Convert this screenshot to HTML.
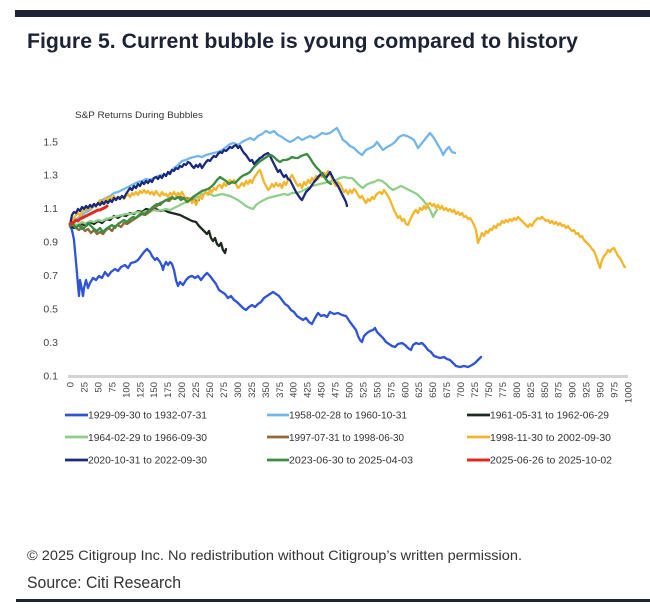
<!DOCTYPE html>
<html>
<head>
<meta charset="utf-8">
<style>
html,body{margin:0;padding:0;background:#fff;}
svg{display:block;}
text{font-family:"Liberation Sans",sans-serif;}
</style>
</head>
<body>
<svg width="650" height="612" viewBox="0 0 650 612" xmlns="http://www.w3.org/2000/svg">
<rect x="0" y="0" width="650" height="612" fill="#fff"/>
<rect x="15" y="10" width="635" height="7" fill="#1b2335"/>
<text x="27" y="48" font-size="21" font-weight="bold" fill="#1b2335" textLength="551" lengthAdjust="spacingAndGlyphs">Figure 5. Current bubble is young compared to history</text>

<text x="75" y="118" font-size="9" fill="#333" textLength="128" lengthAdjust="spacingAndGlyphs">S&amp;P Returns During Bubbles</text>

<g font-size="10.5" fill="#444" text-anchor="end">
<text x="58" y="145.5">1.5</text>
<text x="58" y="178.5">1.3</text>
<text x="58" y="212">1.1</text>
<text x="58" y="245.5">0.9</text>
<text x="58" y="279">0.7</text>
<text x="58" y="312.5">0.5</text>
<text x="58" y="346">0.3</text>
<text x="58" y="379.5">0.1</text>
</g>

<line x1="68" y1="376.5" x2="628" y2="376.5" stroke="#d4d4d4" stroke-width="3"/>

<g font-size="9.5" fill="#444" text-anchor="end">
<text transform="translate(73.5,382) rotate(-90)">0</text>
<text transform="translate(87.5,382) rotate(-90)">25</text>
<text transform="translate(101.4,382) rotate(-90)">50</text>
<text transform="translate(115.4,382) rotate(-90)">75</text>
<text transform="translate(129.3,382) rotate(-90)">100</text>
<text transform="translate(143.3,382) rotate(-90)">125</text>
<text transform="translate(157.2,382) rotate(-90)">150</text>
<text transform="translate(171.2,382) rotate(-90)">175</text>
<text transform="translate(185.1,382) rotate(-90)">200</text>
<text transform="translate(199.1,382) rotate(-90)">225</text>
<text transform="translate(213,382) rotate(-90)">250</text>
<text transform="translate(226.9,382) rotate(-90)">275</text>
<text transform="translate(240.9,382) rotate(-90)">300</text>
<text transform="translate(254.8,382) rotate(-90)">325</text>
<text transform="translate(268.8,382) rotate(-90)">350</text>
<text transform="translate(282.8,382) rotate(-90)">375</text>
<text transform="translate(296.7,382) rotate(-90)">400</text>
<text transform="translate(310.6,382) rotate(-90)">425</text>
<text transform="translate(324.6,382) rotate(-90)">450</text>
<text transform="translate(338.5,382) rotate(-90)">475</text>
<text transform="translate(352.5,382) rotate(-90)">500</text>
<text transform="translate(366.4,382) rotate(-90)">525</text>
<text transform="translate(380.4,382) rotate(-90)">550</text>
<text transform="translate(394.3,382) rotate(-90)">575</text>
<text transform="translate(408.3,382) rotate(-90)">600</text>
<text transform="translate(422.2,382) rotate(-90)">625</text>
<text transform="translate(436.2,382) rotate(-90)">650</text>
<text transform="translate(450.1,382) rotate(-90)">675</text>
<text transform="translate(464.1,382) rotate(-90)">700</text>
<text transform="translate(478,382) rotate(-90)">725</text>
<text transform="translate(492,382) rotate(-90)">750</text>
<text transform="translate(505.9,382) rotate(-90)">775</text>
<text transform="translate(519.9,382) rotate(-90)">800</text>
<text transform="translate(533.8,382) rotate(-90)">825</text>
<text transform="translate(547.8,382) rotate(-90)">850</text>
<text transform="translate(561.7,382) rotate(-90)">875</text>
<text transform="translate(575.7,382) rotate(-90)">900</text>
<text transform="translate(589.6,382) rotate(-90)">925</text>
<text transform="translate(603.6,382) rotate(-90)">950</text>
<text transform="translate(617.5,382) rotate(-90)">975</text>
<text transform="translate(631.5,382) rotate(-90)">1000</text>
</g>

<g fill="none" stroke-width="2.3" stroke-linejoin="round" stroke-linecap="round">
<!-- 1929 -->
<polyline stroke="#2f55d4" points="70,226 72,230 74,240 76,262 78,285 79,296 80,280 82,290 83,296 84,288 86,280 88,288 90,283 93,278 96,280 99,276 102,278 105,272 108,276 111,272 115,269 118,271 121,267 125,265 128,268 131,263 135,262 138,260 141,256 144,252 147,249 150,252 152,256 155,260 157,258 160,262 162,266 163,270 164,266 166,262 168,265 170,262 172,264 174,270 176,280 178,286 180,282 183,285 186,280 189,277 192,276 195,278 198,276 201,280 204,276 207,273 210,276 213,280 216,284 219,290 222,292 225,294 228,298 231,296 234,300 237,302 240,305 243,308 246,310 249,307 252,305 255,307 258,304 261,302 264,298 267,296 270,294 273,292 276,294 279,296 282,300 285,304 288,306 291,310 294,312 297,316 300,318 303,320 306,318 309,322 312,324 315,318 318,313 321,316 324,315 327,317 330,312 334,314 338,313 342,315 346,316 350,322 353,326 356,330 358,336 360,340 362,342 364,336 367,333 370,331 373,330 375,328 377,332 380,335 383,338 386,342 389,344 392,346 395,347 398,344 402,343 405,345 408,348 411,350 413,345 416,343 419,344 422,343 425,346 428,350 431,352 434,356 437,357 440,358 444,357 447,359 450,360 453,363 456,366 460,367 464,366 468,367 472,365 475,363 478,360 481,357"/>
<!-- 1958 -->
<polyline stroke="#72b6ea" points="70,226 74,222 78,218 82,215 86,212 90,210 94,206 98,204 102,200 106,198 110,196 114,193 118,192 122,190 126,188 130,186 134,184 138,182 142,181 146,179 150,180 154,178 158,176 162,175 166,175 170,172 174,168 178,165 182,161 186,160 190,158 194,157 198,156 202,157 206,155 210,154 214,153 218,152 222,150 226,147 230,144 234,143 238,145 242,142 246,140 250,138 254,140 258,136 262,134 266,131 270,133 274,131 278,135 282,137 286,140 290,142 294,140 298,137 302,140 306,138 310,136 314,138 318,136 322,133 326,134 330,133 334,130 337,128 340,134 343,140 346,142 350,146 354,148 358,152 362,155 366,150 370,148 374,146 377,142 380,146 383,150 387,147 391,145 395,142 399,137 403,135 407,136 411,138 414,140 418,148 422,143 426,138 430,133 434,138 438,145 441,150 443,155 446,150 449,147 452,152 455,153"/>
<!-- 1961 -->
<polyline stroke="#1d2b1e" points="70,226 74,228 78,226 82,224 86,226 90,222 94,224 98,221 102,223 106,219 110,220 114,216 118,218 122,215 126,216 130,213 134,214 138,211 142,212 146,209 150,210 153,207 156,209 160,211 164,210 168,212 172,213 176,214 180,215 184,217 188,219 192,221 196,222 199,226 202,229 205,232 207,234 209,231 211,238 213,241 215,238 217,244 219,246 221,243 223,250 225,253 226,249"/>
<!-- 1964 -->
<polyline stroke="#90cf8a" points="70,226 74,224 78,225 82,222 86,224 90,221 94,222 98,220 102,221 106,219 110,218 114,217 118,216 122,215 126,214 130,214 134,213 138,212 142,213 146,211 150,212 154,210 158,211 162,210 166,209 170,210 174,208 178,206 182,204 186,202 190,200 194,198 198,197 202,194 206,193 210,194 214,196 218,195 222,194 226,195 230,196 234,198 238,200 242,203 246,206 250,208 253,209 256,205 260,202 264,200 268,198 272,197 276,196 280,195 284,194 288,195 292,193 296,193 300,192 304,190 308,188 312,186 316,185 320,184 324,183 328,182 332,181 336,180 340,178 344,177 348,178 352,178 356,182 360,186 363,188 366,185 370,183 374,182 378,180 382,181 386,184 390,188 393,190 397,188 401,186 405,188 409,190 413,192 417,194 420,197 423,200 426,204 429,208 431,212 433,217 435,213 437,210"/>
<!-- 1997 -->
<polyline stroke="#8c6b3c" points="70,226 73,225 76,228 79,230 82,227 85,231 88,229 91,233 94,230 97,234 100,232 103,234 106,230 109,228 112,231 115,226 118,225 121,227 124,223 127,224 130,222 133,220 136,218 139,216 142,214 145,215 148,213 151,210 154,208 157,206 160,203 163,202 166,200 169,201 172,198 175,199 178,197 181,197 184,199 187,198 190,200 193,199 196,201 199,200"/>
<!-- 1998-2002 -->
<polyline stroke="#f3b52b" points="70,226 72,222 74,218 76,215 78,213 80,216 82,212 84,210 86,210 88,207 90,209 92,206 94,204 96,207 98,203 100,200 102,204 104,201 106,198 108,200 110,197 112,199 114,196 116,200 118,198 120,197 122,196 124,199 126,196 128,194 130,197 132,193 134,195 136,192 138,195 140,191 142,193 144,190 146,193 148,191 150,194 152,192 154,195 156,191 158,194 160,196 162,192 164,195 166,194 168,197 170,193 172,195 174,192 176,196 178,193 180,195 182,192 184,196 186,199 188,202 190,198 192,203 194,200 196,205 198,200 200,196 202,199 204,194 206,192 208,195 210,190 212,192 214,188 216,190 218,186 220,185 222,188 224,183 226,186 228,182 230,180 232,183 234,180 236,184 238,188 240,186 242,183 244,186 246,181 248,184 250,180 252,183 254,178 256,175 258,172 260,170 262,176 264,182 266,186 268,190 270,188 272,184 274,187 276,183 278,186 280,184 282,188 284,182 286,185 288,180 290,178 292,175 294,179 296,183 298,186 300,184 302,188 304,182 306,185 308,180 310,183 312,178 314,181 316,176 318,179 320,175 322,177 324,173 326,175 328,171 330,174 332,178 334,183 336,186 338,182 340,184 342,188 344,192 346,190 348,194 350,190 352,193 354,189 356,191 358,195 360,198 362,196 364,200 366,203 368,199 370,201 372,197 374,199 376,195 378,193 380,192 382,194 384,190 386,193 388,196 390,200 392,205 394,210 396,214 398,218 400,216 402,221 404,219 406,224 408,225 410,220 412,216 414,212 416,210 418,213 420,208 422,210 424,206 426,209 428,204 430,203 432,206 434,204 436,208 438,205 440,209 442,206 444,210 446,208 448,211 450,209 452,212 454,210 456,214 458,212 460,215 462,213 464,217 466,216 468,219 470,218 472,221 474,225 476,230 477,237 478,243 480,238 482,233 484,236 486,231 488,233 490,229 492,230 494,226 496,228 498,224 500,225 502,221 504,223 506,220 508,222 510,219 512,221 514,218 516,220 518,217 520,219 522,221 524,223 526,225 528,227 530,224 532,226 534,222 536,220 538,218 540,219 542,217 544,219 546,221 548,220 550,223 552,221 554,224 556,222 558,225 560,223 562,226 564,225 566,228 568,226 570,229 572,231 574,230 576,234 578,233 580,237 582,236 584,240 586,242 588,244 590,246 592,249 594,251 596,256 598,262 600,268 602,260 604,256 606,254 608,250 610,252 612,249 614,248 616,252 618,256 620,258 622,262 624,266 625,267"/>
<!-- 2020 -->
<polyline stroke="#1b2a7a" points="70,226 71,220 72,215 74,212 76,213 78,209 80,211 82,207 84,209 86,206 88,208 90,205 92,207 94,204 96,206 98,203 100,205 102,202 104,204 106,201 108,203 110,200 112,202 114,198 116,200 118,197 120,199 122,196 124,198 126,194 128,191 130,188 132,190 134,186 136,188 138,184 140,186 142,182 144,184 146,181 148,183 150,180 152,182 154,178 156,177 158,179 160,176 162,178 164,174 166,176 168,172 170,174 172,170 174,171 176,168 178,169 180,166 182,167 184,164 186,165 188,162 190,163 192,166 194,168 196,165 198,167 200,164 202,168 204,165 206,162 208,160 210,161 212,158 214,156 216,157 218,154 220,152 222,153 224,150 226,151 228,149 230,147 232,148 234,146 236,145 238,148 240,146 242,150 244,153 246,155 248,158 250,161 252,160 254,164 256,162 258,160 260,158 262,157 264,155 266,154 268,153 270,156 272,160 274,164 276,168 278,172 280,170 282,174 284,177 286,175 288,179 290,180 292,184 294,188 296,192 298,195 300,198 302,200 304,196 306,192 308,190 310,188 312,185 314,182 316,180 318,177 320,175 322,173 324,176 326,178 328,175 330,172 332,176 334,180 336,183 338,186 340,190 342,194 344,198 346,202 347,206"/>
<!-- 2023 -->
<polyline stroke="#3c8d41" points="70,226 73,224 76,228 79,225 82,229 85,227 88,223 91,226 94,229 97,231 100,228 103,232 106,229 109,227 112,225 115,228 118,224 121,222 124,220 127,222 130,219 133,217 136,218 139,215 142,213 145,214 148,211 151,209 154,206 157,204 160,205 163,202 166,200 169,199 172,197 175,199 178,197 181,200 184,198 187,202 190,200 193,197 196,195 199,193 202,191 205,190 208,189 211,187 214,184 217,180 220,177 223,179 226,181 229,184 232,182 235,183 238,180 241,177 244,175 247,174 250,172 253,168 256,165 259,162 262,160 265,158 268,156 271,155 274,157 277,160 280,162 283,160 286,160 289,159 292,157 295,158 298,158 301,156 304,155 307,154 310,158 313,163 316,167 319,170 322,174 325,178 328,182 331,184"/>
<!-- 2025 -->
<polyline stroke="#e02a1e" stroke-width="3" points="70,224 72,223 74,222 76,220 78,221 80,219 82,218 84,217 86,216 88,215 90,214 92,213 94,212 96,211 98,210 100,210 102,209 104,208 106,207 107,206"/>
</g>

<!-- Legend -->
<g stroke-width="2.8">
<line x1="65" y1="415" x2="88" y2="415" stroke="#2f55d4"/>
<line x1="267" y1="415" x2="289" y2="415" stroke="#72b6ea"/>
<line x1="467" y1="415" x2="490" y2="415" stroke="#1d2b1e"/>
<line x1="65" y1="437" x2="88" y2="437" stroke="#90cf8a"/>
<line x1="267" y1="437" x2="289" y2="437" stroke="#8c6b3c"/>
<line x1="467" y1="437" x2="490" y2="437" stroke="#f3b52b"/>
<line x1="65" y1="460" x2="88" y2="460" stroke="#1b2a7a"/>
<line x1="267" y1="460" x2="289" y2="460" stroke="#3c8d41"/>
<line x1="467" y1="460" x2="490" y2="460" stroke="#e02a1e" stroke-width="3"/>
</g>
<g font-size="10" fill="#333">
<text x="88" y="418.5" textLength="119" lengthAdjust="spacingAndGlyphs">1929-09-30 to 1932-07-31</text>
<text x="289" y="418.5" textLength="118" lengthAdjust="spacingAndGlyphs">1958-02-28 to 1960-10-31</text>
<text x="490" y="418.5" textLength="119" lengthAdjust="spacingAndGlyphs">1961-05-31 to 1962-06-29</text>
<text x="88" y="441" textLength="119" lengthAdjust="spacingAndGlyphs">1964-02-29 to 1966-09-30</text>
<text x="289" y="441" textLength="115" lengthAdjust="spacingAndGlyphs">1997-07-31 to 1998-06-30</text>
<text x="490" y="441" textLength="121" lengthAdjust="spacingAndGlyphs">1998-11-30 to 2002-09-30</text>
<text x="88" y="463.5" textLength="119" lengthAdjust="spacingAndGlyphs">2020-10-31 to 2022-09-30</text>
<text x="289" y="463.5" textLength="124" lengthAdjust="spacingAndGlyphs">2023-06-30 to 2025-04-03</text>
<text x="490" y="463.5" textLength="122" lengthAdjust="spacingAndGlyphs">2025-06-26 to 2025-10-02</text>
</g>

<text x="27" y="560" font-size="14" fill="#333" textLength="495" lengthAdjust="spacingAndGlyphs">© 2025 Citigroup Inc. No redistribution without Citigroup’s written permission.</text>
<text x="27" y="588" font-size="16.5" fill="#333" textLength="154" lengthAdjust="spacingAndGlyphs">Source: Citi Research</text>
<rect x="16" y="599" width="634" height="3" fill="#1b2335"/>
</svg>
</body>
</html>
